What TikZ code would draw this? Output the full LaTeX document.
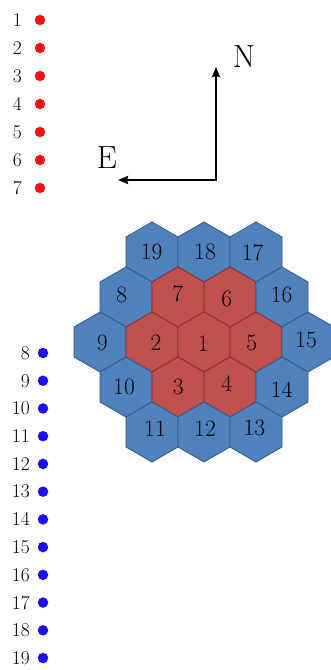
\documentclass[tikz,border=0pt]{standalone}
\usetikzlibrary{arrows.meta}
\definecolor{hexblue}{HTML}{4F81BD}
\definecolor{hexblueedge}{HTML}{34598A}
\definecolor{hexred}{HTML}{C0504D}
\definecolor{hexrededge}{HTML}{823331}
\definecolor{dotred}{HTML}{F01010}
\definecolor{dotblue}{HTML}{1A10F0}
\tikzset{
  hexb/.style={fill=hexblue,draw=hexblueedge,line width=0.8pt,line join=miter},
  hexr/.style={fill=hexred,draw=hexrededge,line width=0.8pt,line join=miter},
  hexlabel/.style={font=\fontsize{23.5}{27}\selectfont,inner sep=0pt,text=black},
  leglabel/.style={font=\fontsize{19.5}{23}\selectfont,inner sep=0pt,anchor=east},
  reddot/.style={circle,fill=dotred,inner sep=0pt,minimum size=10.5pt},
  bluedot/.style={circle,fill=dotblue,inner sep=0pt,minimum size=10.5pt},
  dirlabel/.style={font=\fontsize{32}{36}\selectfont,inner sep=0pt},
  compass/.style={line width=2pt,{Stealth[length=10pt,width=8pt,inset=1pt]}-{Stealth[length=10pt,width=8pt,inset=1pt]}}
}
\newcommand{\hexat}[3]{\path[#1] (#2,#3) +(30:30.02) -- +(90:30.02) -- +(150:30.02) -- +(210:30.02) -- +(270:30.02) -- +(330:30.02) -- cycle;}
\begin{document}
\begin{tikzpicture}[x=1pt,y=-1pt]
\useasboundingbox (0,0) rectangle (331,670);
% legend red
\foreach \i in {1,...,7}{
  \pgfmathsetmacro{\yy}{20+28*(\i-1)}
  \node[leglabel] (rl\i) at (22,\yy) {\i};
  \node[reddot] (rd\i) at (40,\yy) {};
}
% legend blue
\foreach \i in {8,...,19}{
  \pgfmathsetmacro{\yy}{353+27.73*(\i-8)}
  \node[leglabel] (bl\i) at (30,\yy) {\i};
  \node[bluedot] (bd\i) at (43,\yy) {};
}
% compass
\coordinate (o) at (216,180);
\coordinate (n) at (216,67);
\coordinate (e) at (118,180);
\draw[compass] (n) -- (o) -- (e);
\node[dirlabel] (nlab) at (244,57) {N};
\node[dirlabel] (elab) at (107,158) {E};
% hexes
\hexat{hexb}{152}{252}
\hexat{hexb}{204}{252}
\hexat{hexb}{256}{252}
\hexat{hexb}{126}{297}
\hexat{hexr}{178}{297}
\hexat{hexr}{230}{297}
\hexat{hexb}{282}{297}
\hexat{hexb}{100}{342}
\hexat{hexr}{152}{342}
\hexat{hexr}{204}{342}
\hexat{hexr}{256}{342}
\hexat{hexb}{308}{342}
\hexat{hexb}{126}{387}
\hexat{hexr}{178}{387}
\hexat{hexr}{230}{387}
\hexat{hexb}{282}{387}
\hexat{hexb}{152}{432}
\hexat{hexb}{204}{432}
\hexat{hexb}{256}{432}
% hex labels
\node[hexlabel] (h19) at (151.7,252.3) {19};
\node[hexlabel] (h18) at (205,251.7) {18};
\node[hexlabel] (h17) at (252.7,252.7) {17};
\node[hexlabel] (h8) at (121.7,295) {8};
\node[hexlabel] (h7) at (177.7,294) {7};
\node[hexlabel] (h6) at (226.7,299.3) {6};
\node[hexlabel] (h16) at (281.7,295) {16};
\node[hexlabel] (h9) at (102.3,343.3) {9};
\node[hexlabel] (h2) at (156,342.7) {2};
\node[hexlabel] (h1) at (203.3,344) {1};
\node[hexlabel] (h5) at (251.7,342.7) {5};
\node[hexlabel] (h15) at (306,340) {15};
\node[hexlabel] (h10) at (124,386.7) {10};
\node[hexlabel] (h3) at (178.3,386.7) {3};
\node[hexlabel] (h4) at (226.7,384) {4};
\node[hexlabel] (h14) at (281.7,389.3) {14};
\node[hexlabel] (h11) at (155,428.3) {11};
\node[hexlabel] (h12) at (205,428.3) {12};
\node[hexlabel] (h13) at (254.3,428.3) {13};
\end{tikzpicture}
\end{document}
